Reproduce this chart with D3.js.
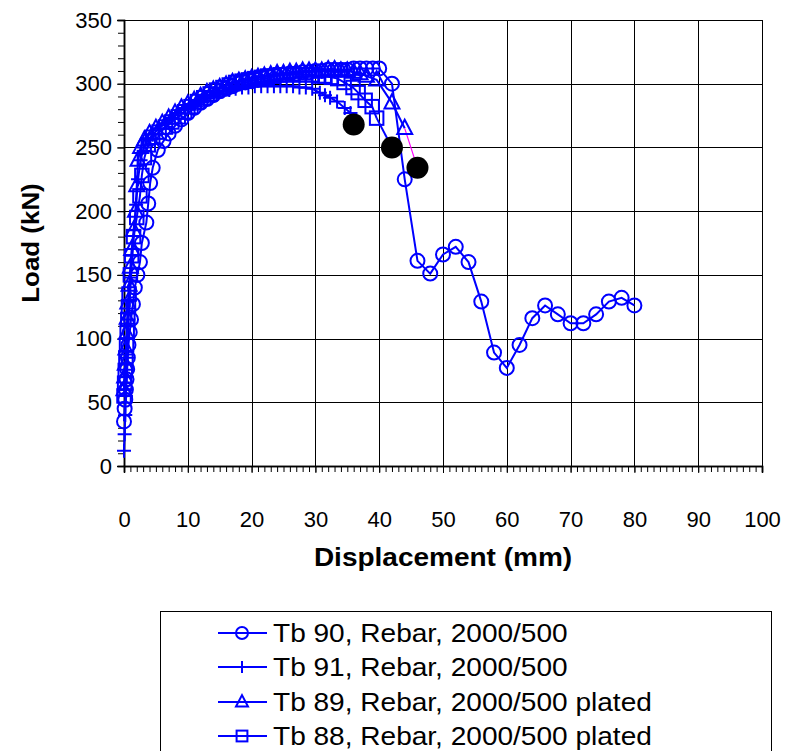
<!DOCTYPE html>
<html>
<head>
<meta charset="utf-8">
<script src="https://cdn.jsdelivr.net/npm/d3@7"></script>
<style>
  body { margin: 0; background: #fff; }
  svg { display: block; font-family: "Liberation Sans", Arial, sans-serif; }
</style>
</head>
<body>
<svg id="chart" width="787" height="751"></svg>
<script>
// ---- Data ----
const xTicks = [0, 10, 20, 30, 40, 50, 60, 70, 80, 90, 100];
const yTicks = [0, 50, 100, 150, 200, 250, 300, 350];

const tb90 = [[0,35],[0.1,45],[0.2,52],[0.3,60],[0.4,68],[0.5,76],[0.6,85],[0.7,95],[0.9,105],[1.1,115],[1.4,127],[1.7,140],[2.1,150],[2.5,160],[2.8,175],[3.5,191],[3.8,206],[4.1,222],[4.5,234],[5.3,248],[6.2,255],[7,261],[8,267],[9,272],[10,277],[11,281],[12,285],[13,288],[14,291],[15,294],[16,296],[17,298],[18,300],[19,301],[20,302],[21,303],[22,304],[23,305],[24,306],[25,307],[26,308],[27,308],[28,309],[29,309],[30,310],[31,310],[32,311],[33,311],[34,311],[35,311],[36,312],[37,312],[38,312],[39,312],[40,312],[42,300],[44,225],[46,161],[48,151],[50,166],[52,172],[54,160],[56,129],[58,89],[60,77],[62,95],[64,116],[66,126],[68,119],[70,112],[72,112],[74,119],[76,129],[78,132],[80,126]];

const tb91 = [[0,12],[0.1,25],[0.2,40],[0.3,55],[0.4,70],[0.5,85],[0.6,100],[0.7,115],[0.9,130],[1.1,148],[1.3,165],[1.6,185],[1.9,205],[2.2,225],[2.6,240],[3.1,250],[3.8,256],[4.5,260],[5.5,265],[6.5,269],[7.5,273],[8.5,277],[9.5,281],[10.5,284],[11.5,287],[12.5,289],[13.5,291],[14.5,293],[15.5,294],[16.5,295],[17.5,296],[18.5,297],[19.5,297],[20.5,298],[21.5,298],[22.5,298],[23.5,298],[24.5,298],[25.5,298],[26.5,298],[27.5,297],[28.5,297],[29.5,296],[30.7,293],[31.5,291],[32.3,289],[33.4,286],[34.6,281],[35.5,277]];

const tb89 = [[0,60],[0.1,70],[0.2,80],[0.3,92],[0.4,104],[0.5,116],[0.6,128],[0.8,142],[1.0,156],[1.2,170],[1.5,185],[1.8,200],[2.0,220],[2.2,240],[2.6,250],[3.2,256],[4,261],[5,265],[6,269],[7,273],[8,277],[9,281],[10,284],[11,287],[12,290],[13,293],[14,295],[15,297],[16,299],[17,301],[18,302],[19,303],[20,304],[21,305],[22,306],[23,307],[24,308],[25,308],[26,309],[27,309],[28,310],[29,310],[30,310],[31,310],[32,311],[33,311],[34,310],[35,310],[36,309],[37,308],[38,306],[39.6,303],[42,285],[44,265]];

const tb88 = [[0,55],[0.1,65],[0.2,75],[0.3,85],[0.4,95],[0.5,105],[0.6,115],[0.7,125],[0.8,135],[1.0,150],[1.2,165],[1.5,180],[2.0,195],[2.5,212],[2.8,228],[3.2,242],[3.8,252],[4.5,258],[5.5,262],[6.5,266],[7.5,270],[8.5,274],[9.5,278],[10.5,282],[11.5,286],[12.5,289],[13.5,292],[14.5,295],[15.5,297],[16.5,299],[17.5,301],[18.5,302],[19.5,303],[20.5,304],[21.5,305],[22.5,306],[23.5,306],[24.5,307],[25.5,307],[26.5,307],[27.5,307],[28.5,307],[29.5,307],[30.5,306],[31.5,306],[32.5,305],[33.5,304],[34.5,301],[35.9,297],[36.7,293],[37.8,287],[38.9,282],[39.6,273]];

// failure points (black dots)
const failures = [[36,268],[42,250],[46,234]];

const seriesNames = ["Tb 90, Rebar, 2000/500", "Tb 91, Rebar, 2000/500", "Tb 89, Rebar, 2000/500 plated", "Tb 88, Rebar, 2000/500 plated"];

// ---- Layout ----
const svg = d3.select("#chart");
const pL = 124, pR = 762, pT = 20, pB = 466;
const x = d3.scaleLinear().domain([0, 100]).range([pL, pR]);
const y = d3.scaleLinear().domain([0, 350]).range([pB, pT]);
const blue = "#0000ff";
const FONT = "'Liberation Sans', Arial, sans-serif";

// grid
const grid = svg.append("g");
grid.selectAll("line.gx").data(xTicks.slice(1)).enter().append("line")
  .attr("x1", d => Math.round(x(d)) + 0.5).attr("x2", d => Math.round(x(d)) + 0.5)
  .attr("y1", pT).attr("y2", pB).attr("stroke", "#000").attr("stroke-width", 1);
grid.selectAll("line.gy").data(yTicks.slice(1)).enter().append("line")
  .attr("y1", d => Math.round(y(d)) + 0.5).attr("y2", d => Math.round(y(d)) + 0.5)
  .attr("x1", pL).attr("x2", pR).attr("stroke", "#000").attr("stroke-width", 1);

// axes
const xMinor = d3.range(0, 101, 1);
const yMinor = d3.range(0, 351, 10);
const xAxisMinor = d3.axisBottom(x).tickValues(xMinor).tickSize(6).tickFormat("");
const xAxis = d3.axisBottom(x).tickValues(xTicks).tickSize(7).tickPadding(38).tickFormat(d3.format("d"));
const yAxisMinor = d3.axisLeft(y).tickValues(yMinor).tickSize(6).tickFormat("");
const yAxis = d3.axisLeft(y).tickValues(yTicks).tickSize(7).tickPadding(5).tickFormat(d3.format("d"));

function styleAxis(g) {
  g.select(".domain").attr("stroke", "#000").attr("stroke-width", 1.5);
  g.selectAll(".tick line").attr("stroke", "#000");
  g.selectAll(".tick text").attr("font-size", 22).attr("fill", "#000").attr("font-family", FONT);
}
svg.append("g").attr("transform", `translate(0,${pB})`).call(xAxisMinor).call(styleAxis);
svg.append("g").attr("transform", `translate(0,${pB})`).call(xAxis).call(styleAxis);
svg.append("g").attr("transform", `translate(${pL},0)`).call(yAxisMinor).call(styleAxis);
svg.append("g").attr("transform", `translate(${pL},0)`).call(yAxis).call(styleAxis);

// top & right border
svg.append("line").attr("x1", pL).attr("x2", pR).attr("y1", pT + 0.5).attr("y2", pT + 0.5).attr("stroke", "#000");
svg.append("line").attr("x1", pR + 0.5).attr("x2", pR + 0.5).attr("y1", pT).attr("y2", pB).attr("stroke", "#000");

// axis titles
svg.append("text").attr("transform", `translate(${(pL + pR) / 2},566) scale(1.12,1)`).attr("text-anchor", "middle")
  .attr("font-size", 25).attr("font-weight", "bold").attr("font-family", FONT).text("Displacement (mm)");
svg.append("text").attr("transform", `translate(39,${(pT + pB) / 2}) rotate(-90) scale(1.08,1)`)
  .attr("text-anchor", "middle").attr("font-size", 24).attr("font-weight", "bold").attr("font-family", FONT).text("Load (kN)");

// markers
function marker(g, type, s) {
  if (type === "circle") {
    g.append("circle").attr("r", s).attr("fill", "none").attr("stroke", blue).attr("stroke-width", 2);
  } else if (type === "plus") {
    g.append("path").attr("d", `M${-s},0H${s}M0,${-s}V${s}`).attr("fill", "none").attr("stroke", blue).attr("stroke-width", 2);
  } else if (type === "triangle") {
    g.append("path").attr("d", `M0,${-s * 1.15}L${s},${s * 0.75}L${-s},${s * 0.75}Z`).attr("fill", "none").attr("stroke", blue).attr("stroke-width", 2);
  } else if (type === "square") {
    g.append("rect").attr("x", -s * 0.9).attr("y", -s * 0.9).attr("width", s * 1.8).attr("height", s * 1.8)
      .attr("fill", "none").attr("stroke", blue).attr("stroke-width", 2);
  }
}

const line = d3.line().x(d => x(d[0])).y(d => y(d[1]));
const series = [
  { data: tb90, type: "circle", size: 7, tail: null, tailColor: blue },
  { data: tb91, type: "plus", size: 7, tail: failures[0], tailColor: blue },
  { data: tb89, type: "triangle", size: 7.5, tail: failures[2], tailColor: "#ff00ff" },
  { data: tb88, type: "square", size: 7.5, tail: failures[1], tailColor: blue }
];

series.forEach(s => {
  const g = svg.append("g");
  g.append("path").datum(s.data).attr("d", line).attr("fill", "none").attr("stroke", blue).attr("stroke-width", 2);
  if (s.tail) {
    const last = s.data[s.data.length - 1];
    g.append("path").datum([last, s.tail]).attr("d", line).attr("fill", "none")
      .attr("stroke", s.tailColor).attr("stroke-width", s.tailColor === blue ? 2 : 1.2);
  }
  g.selectAll("g.m").data(s.data).enter().append("g")
    .attr("transform", d => `translate(${x(d[0])},${y(d[1])})`)
    .each(function () { marker(d3.select(this), s.type, s.size); });
});

// failure dots
svg.append("g").selectAll("circle").data(failures).enter().append("circle")
  .attr("cx", d => x(d[0])).attr("cy", d => y(d[1])).attr("r", 11).attr("fill", "#000");

// legend
const lg = svg.append("g");
lg.append("rect").attr("x", 160.5).attr("y", 611.5).attr("width", 611).attr("height", 160)
  .attr("fill", "#fff").attr("stroke", "#000").attr("stroke-width", 1);
const rowY = [633, 667, 702, 736];
series.forEach((s, i) => {
  const ry = rowY[i];
  lg.append("line").attr("x1", 218).attr("x2", 267).attr("y1", ry).attr("y2", ry).attr("stroke", blue).attr("stroke-width", 2);
  const mg = lg.append("g").attr("transform", `translate(242,${ry})`);
  marker(mg, s.type, 6);
  lg.append("text").attr("transform", `translate(273,${ry + 9}) scale(1.1,1)`).attr("font-size", 25.5)
    .attr("font-family", FONT).attr("fill", "#000").text(seriesNames[i]);
});
</script>
</body>
</html>
